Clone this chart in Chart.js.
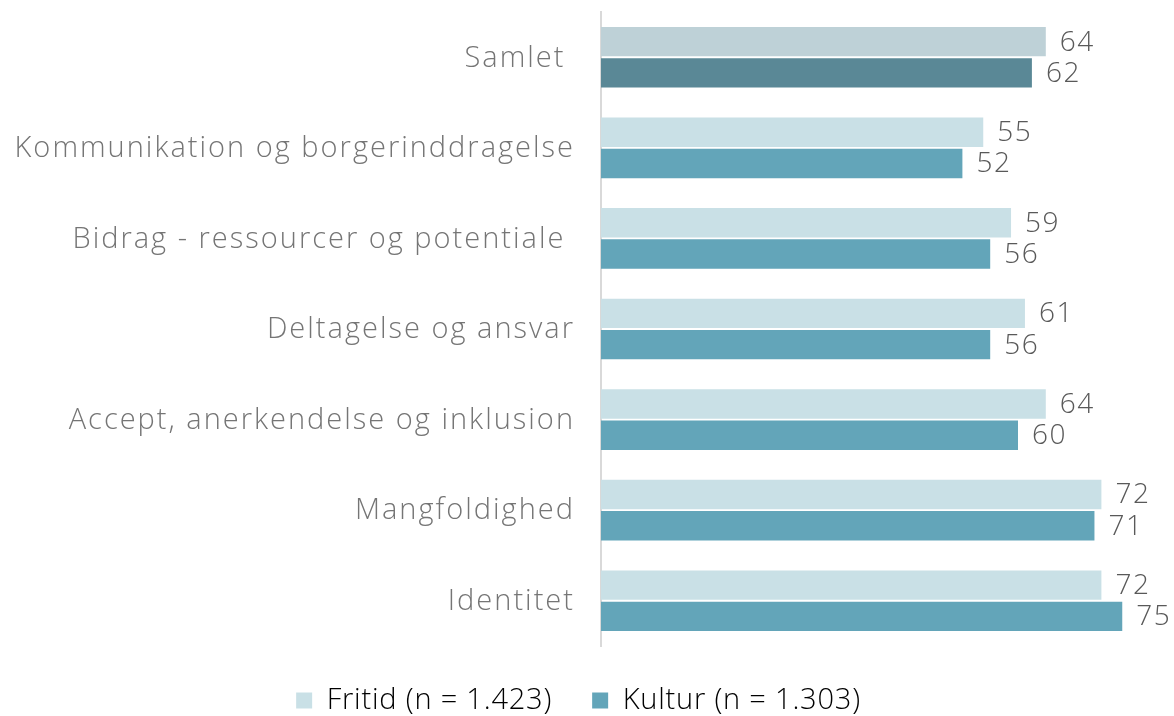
<!DOCTYPE html>
<html lang="da">
<head>
<meta charset="utf-8">
<title>Fritid og kultur</title>
<script src="https://cdn.jsdelivr.net/npm/chart.js@4.4.1/dist/chart.umd.min.js"></script>
<style>
  html, body { margin: 0; padding: 0; background: #fff; }
  #wrap { width: 1174px; height: 716px; position: relative; }
</style>
</head>
<body>
<div id="wrap"><canvas id="chart"></canvas></div>
<script>
// categories and scores per sector
const categories = [
  'Samlet ',
  'Kommunikation og borgerinddragelse',
  'Bidrag - ressourcer og potentiale ',
  'Deltagelse og ansvar',
  'Accept, anerkendelse og inklusion',
  'Mangfoldighed',
  'Identitet'
];
const fritidValues = [64, 55, 59, 61, 64, 72, 72];
const kulturValues = [62, 52, 56, 56, 60, 71, 75];
const seriesNames = ['Fritid (n = 1.423)', 'Kultur (n = 1.303)'];

const FONT = '"Open Sans", Lato, "Noto Sans", sans-serif';
const fritidColor = '#c9e0e6';
const kulturColor = '#63a5b9';
// the overall row is shaded differently
const fritidSamlet = '#bed1d7';
const kulturSamlet = '#5a8896';

// a bit of tracking so the light sans reads wider
const spacing = {
  id: 'spacing',
  beforeUpdate(chart) { chart.ctx.letterSpacing = '0.8px'; },
  beforeDraw(chart) { chart.ctx.letterSpacing = '0.8px'; }
};

// category names drawn at the y scale's tick positions
const categoryLabels = {
  id: 'categoryLabels',
  afterDraw(chart) {
    const ctx = chart.ctx;
    const y = chart.scales.y;
    ctx.save();
    ctx.letterSpacing = '2px';
    ctx.font = '300 29px ' + FONT;
    ctx.fillStyle = '#757575';
    ctx.textAlign = 'right';
    ctx.textBaseline = 'middle';
    categories.forEach((c, i) => {
      ctx.fillText(c, y.right - 26, y.getPixelForValue(i) + 1);
    });
    ctx.restore();
  }
};

const valueLabels = {
  id: 'valueLabels',
  afterDatasetsDraw(chart) {
    const ctx = chart.ctx;
    ctx.save();
    ctx.letterSpacing = '1.5px';
    ctx.font = '300 28px ' + FONT;
    ctx.fillStyle = '#595959';
    ctx.textBaseline = 'middle';
    ctx.textAlign = 'left';
    chart.data.datasets.forEach((ds, di) => {
      chart.getDatasetMeta(di).data.forEach((bar, i) => {
        const txt = String(ds.data[i]);
        const w = ctx.measureText(txt).width;
        const x = Math.min(bar.x + 14, chart.width - w - 2);
        ctx.fillText(txt, x, bar.y + 1);
      });
    });
    ctx.restore();
  }
};

new Chart(document.getElementById('chart'), {
  type: 'bar',
  data: {
    labels: categories,
    datasets: [
      {
        label: seriesNames[0],
        data: fritidValues,
        backgroundColor: fritidValues.map((v, i) => i === 0 ? fritidSamlet : fritidColor),
        categoryPercentage: 0.69,
        barPercentage: 0.94
      },
      {
        label: seriesNames[1],
        data: kulturValues,
        backgroundColor: kulturValues.map((v, i) => i === 0 ? kulturSamlet : kulturColor),
        categoryPercentage: 0.69,
        barPercentage: 0.94
      }
    ]
  },
  options: {
    indexAxis: 'y',
    responsive: true,
    maintainAspectRatio: false,
    animation: false,
    // legend padding is large for the gap between its items, so pull the box down
    layout: { padding: { top: 12, right: 17, left: 0, bottom: -9 } },
    scales: {
      x: {
        min: 0,
        max: 80,
        display: false,
        grid: { display: false }
      },
      y: {
        grid: { display: false, drawTicks: false },
        border: { display: true, color: '#d9d9d9', width: 2 },
        ticks: { display: false },
        afterFit(scale) {
          scale.width = 601;
          scale.paddingTop = 0;
          scale.paddingBottom = 0;
        }
      }
    },
    plugins: {
      tooltip: { enabled: false },
      legend: {
        position: 'bottom',
        labels: {
          color: '#757575',
          font: { family: FONT, size: 29, weight: '300' },
          boxWidth: 16,
          boxHeight: 16,
          padding: 40,
          generateLabels() {
            return [
              { text: seriesNames[0], fillStyle: fritidColor, strokeStyle: fritidColor, lineWidth: 0, datasetIndex: 0 },
              { text: seriesNames[1], fillStyle: kulturColor, strokeStyle: kulturColor, lineWidth: 0, datasetIndex: 1 }
            ];
          }
        }
      }
    }
  },
  plugins: [spacing, categoryLabels, valueLabels]
});
</script>
</body>
</html>
